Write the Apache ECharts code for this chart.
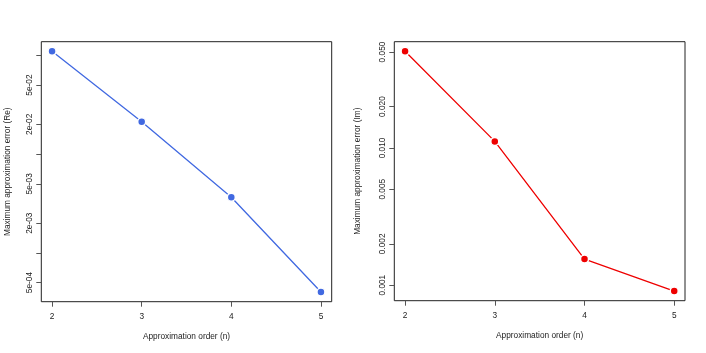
<!DOCTYPE html>
<html>
<head>
<meta charset="utf-8">
<script src="https://cdn.jsdelivr.net/npm/echarts@6/dist/echarts.min.js"></script>
<style>
html,body{margin:0;padding:0;background:#fff;}
#chart{width:706px;height:353px;}
</style>
</head>
<body>
<div id="chart"></div>
<script>
// ---- data ----
const orders = [2, 3, 4, 5];
const errRe = [0.1097, 0.0212, 0.00366, 0.000401];
const errIm = [0.0506, 0.01116, 0.00155, 0.000905];
const xTicks = [2, 3, 4, 5];
const reTickValues = [1e-1, 5e-2, 2e-2, 1e-2, 5e-3, 2e-3, 1e-3, 5e-4];
const reLabelValues = [5e-2, 2e-2, 5e-3, 2e-3, 5e-4];
const reLabelText = ['5e-02', '2e-02', '5e-03', '2e-03', '5e-04'];
const imTickValues = [0.05, 0.02, 0.01, 0.005, 0.002, 0.001];
const imLabelText = ['0.050', '0.020', '0.010', '0.005', '0.002', '0.001'];
const xTitle = 'Approximation order (n)';
const reTitle = 'Maximum approximation error (Re)';
const imTitle = 'Maximum approximation error (Im)';

// R-style 4% padded ranges
function logRange(arr) {
  const lo = Math.log10(Math.min(...arr)), hi = Math.log10(Math.max(...arr));
  const p = (hi - lo) * 0.04;
  return [Math.pow(10, lo - p), Math.pow(10, hi + p)];
}
const xPad = (orders[orders.length - 1] - orders[0]) * 0.04;
const reR = logRange(errRe), imR = logRange(errIm);

const FONT = "'Liberation Sans', Arial, sans-serif";
const FS = 8.3;
const TXT = '#222';

function xAxis(gi) {
  return {
    type: 'value', gridIndex: gi,
    min: orders[0] - xPad, max: orders[orders.length - 1] + xPad,
    axisLine: { show: false },
    axisTick: { show: true, length: 5, customValues: xTicks, lineStyle: { color: '#555' } },
    axisLabel: { customValues: xTicks, margin: 11, fontSize: FS, fontFamily: FONT, color: TXT },
    splitLine: { show: false },
    name: xTitle, nameLocation: 'middle', nameGap: 31,
    nameTextStyle: { fontSize: FS, fontFamily: FONT, color: TXT }
  };
}
function yAxis(gi, range, tickVals, labelVals, labelText, title, gap) {
  return {
    type: 'log', logBase: 10, gridIndex: gi,
    min: range[0], max: range[1],
    axisLine: { show: false },
    axisTick: { show: true, length: 5, customValues: tickVals, lineStyle: { color: '#555' } },
    axisLabel: {
      customValues: labelVals, rotate: 90, margin: 8,
      fontSize: FS, fontFamily: FONT, color: TXT,
      formatter: function (v) {
        let best = 0, bd = Infinity;
        labelVals.forEach((lv, i) => { const d = Math.abs(Math.log10(lv) - Math.log10(v)); if (d < bd) { bd = d; best = i; } });
        return labelText[best];
      }
    },
    splitLine: { show: false },
    name: title, nameLocation: 'middle', nameGap: gap, nameRotate: 90,
    nameTextStyle: { fontSize: FS, fontFamily: FONT, color: TXT }
  };
}

const chart = echarts.init(document.getElementById('chart'), null, { renderer: 'canvas' });
chart.setOption({
  animation: false,
  backgroundColor: '#fff',
  grid: [
    { left: 41.3, top: 41.7, width: 290.4, height: 260, show: true, borderColor: '#222', borderWidth: 1, backgroundColor: 'transparent' },
    { left: 394.3, top: 41.7, width: 290.7, height: 259, show: true, borderColor: '#222', borderWidth: 1, backgroundColor: 'transparent' }
  ],
  xAxis: [xAxis(0), xAxis(1)],
  yAxis: [
    yAxis(0, reR, reTickValues, reLabelValues, reLabelText, reTitle, 30),
    yAxis(1, imR, imTickValues, imTickValues, imLabelText, imTitle, 33)
  ],
  series: [
    {
      type: 'line', xAxisIndex: 0, yAxisIndex: 0,
      data: orders.map((o, i) => [o, errRe[i]]),
      symbol: 'circle', symbolSize: 8,
      lineStyle: { color: '#4169E1', width: 1.3 },
      itemStyle: { color: '#4169E1', borderColor: '#fff', borderWidth: 1.5 }
    },
    {
      type: 'line', xAxisIndex: 1, yAxisIndex: 1,
      data: orders.map((o, i) => [o, errIm[i]]),
      symbol: 'circle', symbolSize: 8,
      lineStyle: { color: '#EE0000', width: 1.3 },
      itemStyle: { color: '#EE0000', borderColor: '#fff', borderWidth: 1.5 }
    }
  ]
});
</script>
</body>
</html>
